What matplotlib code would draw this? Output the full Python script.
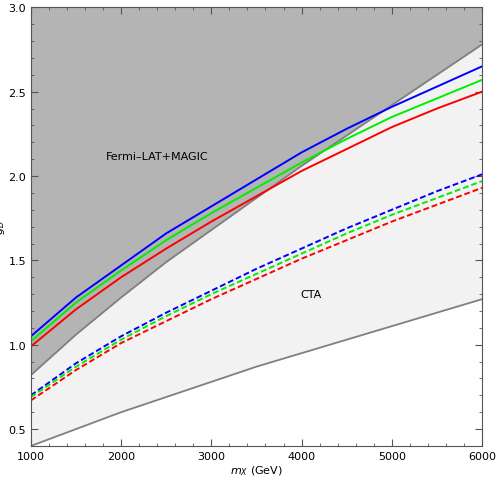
import matplotlib
matplotlib.use("Agg")
import matplotlib.pyplot as plt
from matplotlib.ticker import MultipleLocator

mx = [1000, 1500, 2000, 2500, 3000, 3500, 4000, 4500, 5000, 5500, 6000]
fermi_bound = [0.82, 1.06, 1.28, 1.49, 1.68, 1.87, 2.06, 2.24, 2.42, 2.60, 2.78]
cta_bound = [0.40, 0.50, 0.60, 0.69, 0.78, 0.87, 0.95, 1.03, 1.11, 1.19, 1.27]
blue_solid = [1.05, 1.28, 1.47, 1.66, 1.82, 1.98, 2.14, 2.28, 2.41, 2.53, 2.65]
green_solid = [1.02, 1.25, 1.44, 1.62, 1.78, 1.93, 2.08, 2.22, 2.35, 2.46, 2.57]
red_solid = [0.99, 1.21, 1.40, 1.57, 1.73, 1.88, 2.03, 2.16, 2.29, 2.40, 2.50]
blue_dash = [0.70, 0.89, 1.05, 1.19, 1.32, 1.45, 1.57, 1.69, 1.80, 1.91, 2.01]
green_dash = [0.69, 0.87, 1.03, 1.17, 1.30, 1.42, 1.54, 1.66, 1.77, 1.87, 1.97]
red_dash = [0.67, 0.85, 1.01, 1.14, 1.27, 1.39, 1.51, 1.62, 1.73, 1.83, 1.93]

fig = plt.figure(figsize=(4.98, 4.89), dpi=100)
ax = fig.add_axes([0.062, 0.086, 0.906, 0.897])
ax.fill_between(mx, cta_bound, fermi_bound, color="#f2f2f2", lw=0)
ax.fill_between(mx, fermi_bound, 3.0, color="#b4b4b4", lw=0)
ax.plot(mx, fermi_bound, color="#808080", lw=1.3)
ax.plot(mx, cta_bound, color="#808080", lw=1.3)
for ys, c in [(blue_solid, "#0000ff"), (green_solid, "#00ee00"), (red_solid, "#ff0000")]:
    ax.plot(mx, ys, color=c, lw=1.4)
for ys, c in [(blue_dash, "#0000ff"), (green_dash, "#00ee00"), (red_dash, "#ff0000")]:
    ax.plot(mx, ys, color=c, lw=1.4, ls=(0, (3, 1.5)))
ax.text(2400, 2.12, "Fermi\u2013LAT+MAGIC", fontsize=8, ha="center", va="center")
ax.text(4100, 1.30, "CTA", fontsize=8, ha="center", va="center")
ax.set_xlim(1000, 6000)
ax.set_ylim(0.4, 3.0)
ax.xaxis.set_major_locator(MultipleLocator(1000))
ax.xaxis.set_minor_locator(MultipleLocator(200))
ax.yaxis.set_major_locator(MultipleLocator(0.5))
ax.yaxis.set_minor_locator(MultipleLocator(0.1))
ax.tick_params(which="both", direction="in", top=True, right=True, labelsize=8, color="#555555")
ax.tick_params(which="major", length=5)
ax.tick_params(which="minor", length=2.5)
for s in ax.spines.values():
    s.set_color("#555555")
ax.set_xlabel("$m_X$ (GeV)", fontsize=8, labelpad=2)
ax.set_ylabel("$g_D$", fontsize=8, labelpad=1)
fig.savefig("out.png", dpi=100)
